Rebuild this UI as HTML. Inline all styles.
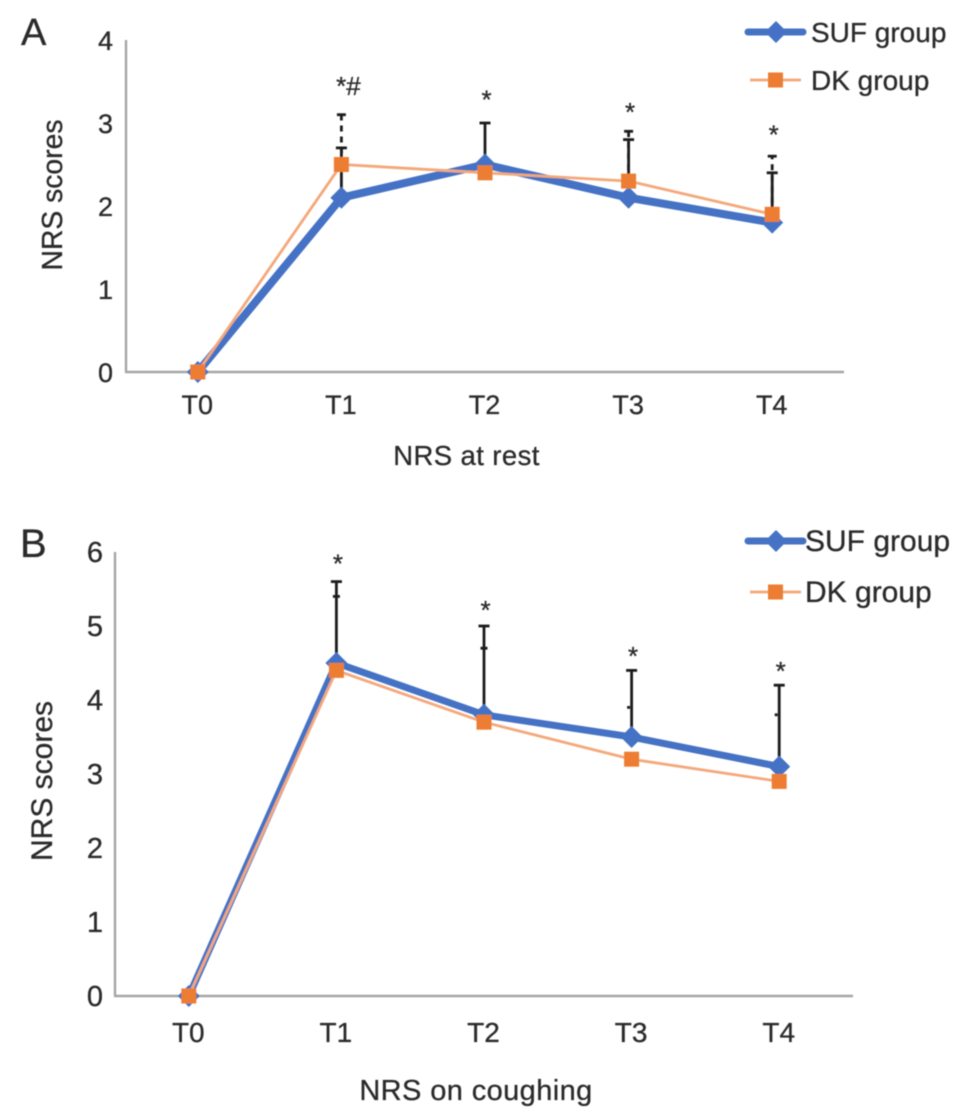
<!DOCTYPE html>
<html>
<head>
<meta charset="utf-8">
<style>
html,body{margin:0;padding:0;background:#fff;width:969px;height:1120px;overflow:hidden}
svg{display:block}
text{font-family:"Liberation Sans",sans-serif;fill:#2b2b2b;stroke:#2b2b2b;stroke-width:0.3px}
</style>
</head>
<body>
<svg id="chart" width="969" height="1120" viewBox="0 0 969 1120" xmlns="http://www.w3.org/2000/svg">
<defs><filter id="soft" x="-5%" y="-5%" width="110%" height="110%"><feGaussianBlur stdDeviation="0.6"/></filter></defs>
<g id="root" filter="url(#soft)">
<text x="21" y="45" font-size="38">A</text>
<text x="20" y="557" font-size="40">B</text>
<text x="466.5" y="465" font-size="27.5" letter-spacing="0.4" text-anchor="middle">NRS at rest</text>
<text x="476" y="1100" font-size="29" letter-spacing="0.4" text-anchor="middle">NRS on coughing</text>
<text transform="translate(62,195) rotate(-90)" font-size="28.3" text-anchor="middle">NRS scores</text>
<text transform="translate(52,781) rotate(-90)" font-size="30" text-anchor="middle">NRS scores</text>
</g>
</svg>
<script>
var categories = ['T0', 'T1', 'T2', 'T3', 'T4'];
var seriesNames = ['SUF group', 'DK group'];

var panelAYTicks = [0, 1, 2, 3, 4];
var panelASuf = [0, 2.1, 2.5, 2.1, 1.8];
var panelADk = [0, 2.5, 2.4, 2.3, 1.9];
var panelASufUpper = [null, 2.7, 3.0, 2.8, 2.4];
var panelADkUpper = [null, 3.1, null, 2.9, 2.6];
var panelAMarks = ['', '*#', '*', '*', '*'];
var panelAMarkLevels = [null, 3.36, 3.2, 3.05, 2.78];

var panelBYTicks = [0, 1, 2, 3, 4, 5, 6];
var panelBSuf = [0, 4.5, 3.8, 3.5, 3.1];
var panelBDk = [0, 4.4, 3.7, 3.2, 2.9];
var panelBSufUpper = [null, 5.6, 5.0, 4.4, 4.2];
var panelBDkUpper = [null, 5.4, 4.7, 3.9, 3.8];
var panelBMarks = ['', '*', '*', '*', '*'];
var panelBMarkLevels = [null, 5.75, 5.12, 4.5, 4.3];

var NS = 'http://www.w3.org/2000/svg';
var root = document.getElementById('root');
var BLUE = '#4472c4', ORANGE = '#f4a87a', ORANGE_DARK = '#ed7d31', AXIS = '#a6a6a6';

function mk(tag, attrs, parent) {
  var el = document.createElementNS(NS, tag);
  for (var k in attrs) el.setAttribute(k, attrs[k]);
  (parent || root).appendChild(el);
  return el;
}

function drawPanel(p) {
  var g = mk('g', {});
  
  
  var band = (p.right - p.left) / categories.length;
  function x(i) { return p.left + band * (i + 0.5); }
  var maxTick = p.ticks[p.ticks.length - 1];
  function y(v) { return p.bottom - (p.bottom - p.top) * v / maxTick; }

  var yAxis = mk('line', {x1: p.left, x2: p.left, y1: y(maxTick), y2: y(0), stroke: AXIS, 'stroke-width': 2.4}, g);
  
  
  var xAxis = mk('line', {x1: p.left - 1, x2: p.right, y1: y(0), y2: y(0), stroke: AXIS, 'stroke-width': 2.4}, g);
  
  

  p.ticks.forEach(function (t) {
    var lab = mk('text', {x: p.left - p.tickGap, y: y(t) + 10, 'font-size': p.tickSize, 'text-anchor': 'end'}, g);
    lab.textContent = String(t);
    
    
  });
  categories.forEach(function (c, i) {
    var lab = mk('text', {x: x(i) - 0.5, y: y(0) + p.catOffset, 'font-size': p.catSize, 'text-anchor': 'middle'}, g);
    lab.textContent = c;
    
    
  });

  function errorBar(i, base, upper, dashed, capHalf, shift, name) {
    if (upper === null) return;
    var eg = mk('g', {stroke: '#1c1c1c', 'stroke-width': 2.8, fill: 'none'}, g);
    
    
    if (dashed) {
      var ln = mk('line', {x1: x(i), x2: x(i), y1: y(base), y2: y(upper)}, eg);
      ln.setAttribute('stroke-dasharray', '6 5');
    }
    mk('line', {x1: x(i) - capHalf + shift, x2: x(i) + capHalf + shift, y1: y(upper), y2: y(upper)}, eg);
  }
  categories.forEach(function (c, i) {
    var cap = p.dkCapHalf(i);
    errorBar(i, p.dk[i], p.dkUpper[i], p.dashedDk, cap, p.dkCapShift(i), p.id + '-dk-error-' + c);
  });
  categories.forEach(function (c, i) {
    if (p.sufUpper[i] === null) return;
    var body = mk('line', {x1: x(i), x2: x(i), y1: y(p.suf[i]), y2: y(p.sufUpper[i]), stroke: '#1c1c1c', 'stroke-width': 2.8}, g);
    
    
    errorBar(i, p.suf[i], p.sufUpper[i], false, 5.5, 0, p.id + '-suf-error-' + c);
  });

  function pts(vals) {
    return vals.map(function (v, i) { return x(i) + ',' + y(v); }).join(' ');
  }
  var sufLine = mk('polyline', {points: pts(p.suf), fill: 'none', stroke: BLUE, 'stroke-width': p.sufWidth, 'stroke-linejoin': 'round'}, g);
  
  
  p.suf.forEach(function (v, i) {
    var cx = x(i), cy = y(v), r = 11;
    var d = mk('polygon', {points: (cx - r) + ',' + cy + ' ' + cx + ',' + (cy - r) + ' ' + (cx + r) + ',' + cy + ' ' + cx + ',' + (cy + r), fill: BLUE}, g);
    
    
  });
  var dkLine = mk('polyline', {points: pts(p.dk), fill: 'none', stroke: ORANGE, 'stroke-width': 2.8}, g);
  
  
  p.dk.forEach(function (v, i) {
    var s = mk('rect', {x: x(i) - 7.5, y: y(v) - 7.5, width: 15, height: 15, fill: ORANGE_DARK}, g);
    
    
  });

  p.marks.forEach(function (m, i) {
    if (!m) return;
    var t = mk('text', {x: x(i) + (m.length > 1 ? 7 : 1.5), y: y(p.markLevels[i]) + 2, 'font-size': 26, 'text-anchor': 'middle'}, g);
    t.textContent = m;
    
    
  });

  var lx = p.legendX, names = seriesNames;
  var l1 = mk('g', {}, g);
  
  
  mk('line', {x1: lx, x2: lx + 55, y1: p.legendY, y2: p.legendY, stroke: BLUE, 'stroke-width': 7, 'stroke-linecap': 'round'}, l1);
  mk('polygon', {points: (lx + 17) + ',' + p.legendY + ' ' + (lx + 28) + ',' + (p.legendY - 11) + ' ' + (lx + 39) + ',' + p.legendY + ' ' + (lx + 28) + ',' + (p.legendY + 11), fill: BLUE}, l1);
  var lt1 = mk('text', {x: p.legendTextX, y: p.legendY + 10, 'font-size': p.legendSize}, l1);
  lt1.textContent = names[0];
  var l2 = mk('g', {}, g);
  
  
  var ly2 = p.legendY + p.legendGap;
  mk('line', {x1: lx + 2, x2: lx + 53, y1: ly2, y2: ly2, stroke: ORANGE, 'stroke-width': 2.8}, l2);
  mk('rect', {x: lx + 20, y: ly2 - 7.5, width: 15, height: 15, fill: ORANGE_DARK}, l2);
  var lt2 = mk('text', {x: p.legendTextX, y: ly2 + 10, 'font-size': p.legendSize}, l2);
  lt2.textContent = names[1];
}

drawPanel({
  id: 'panel-a', left: 126, right: 844, top: 40, bottom: 372,
  ticks: panelAYTicks, suf: panelASuf, dk: panelADk,
  sufUpper: panelASufUpper, dkUpper: panelADkUpper, dashedDk: true,
  dkCapHalf: function () { return 4.5; }, dkCapShift: function () { return 0; },
  marks: panelAMarks, markLevels: panelAMarkLevels,
  tickSize: 27, tickGap: 13, catSize: 27, catOffset: 42, sufWidth: 8,
  legendX: 748, legendY: 32, legendGap: 48, legendTextX: 811, legendSize: 28
});
drawPanel({
  id: 'panel-b', left: 115, right: 853, top: 552, bottom: 996,
  ticks: panelBYTicks, suf: panelBSuf, dk: panelBDk,
  sufUpper: panelBSufUpper, dkUpper: panelBDkUpper, dashedDk: false,
  dkCapHalf: function (i) { return i >= 3 ? 1.5 : 3.5; }, dkCapShift: function (i) { return i >= 3 ? -3 : 0; },
  marks: panelBMarks, markLevels: panelBMarkLevels,
  tickSize: 29, tickGap: 12, catSize: 28, catOffset: 46, sufWidth: 7,
  legendX: 748, legendY: 541, legendGap: 51, legendTextX: 805, legendSize: 30
});
</script>
</body>
</html>
